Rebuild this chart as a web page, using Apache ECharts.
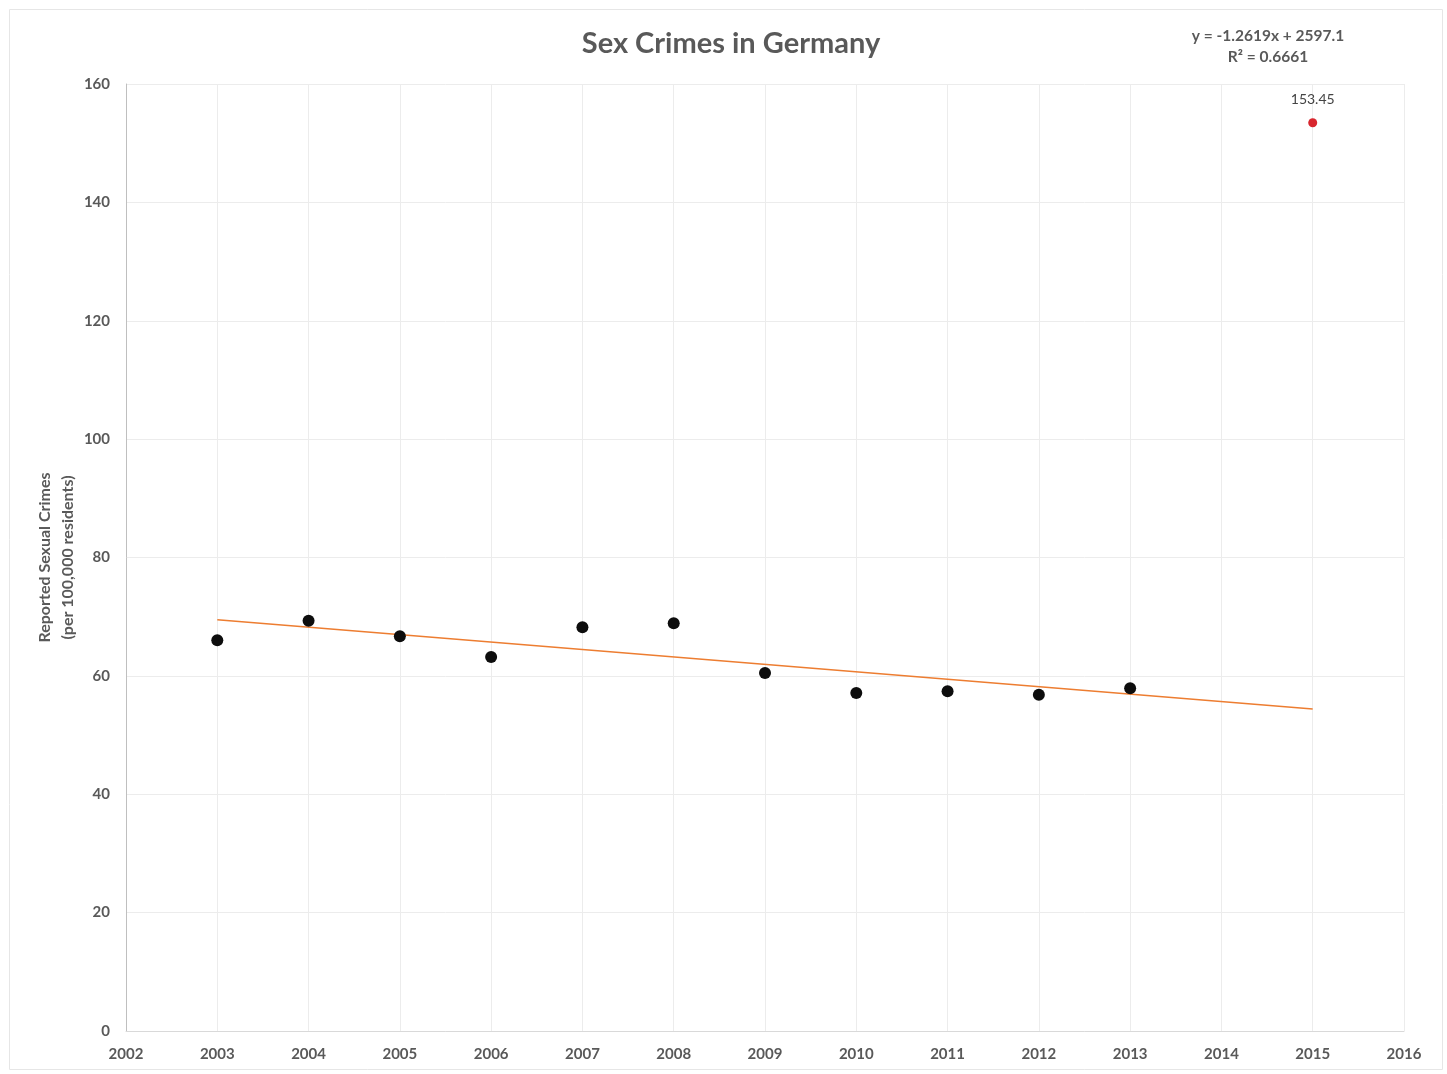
<!DOCTYPE html>
<html>
<head>
<meta charset="utf-8">
<script src="https://cdn.jsdelivr.net/npm/echarts@6/dist/echarts.min.js"></script>
<style>
  html, body { margin: 0; padding: 0; background: #fff; }
  #chart { width: 1447px; height: 1074px; }
</style>
</head>
<body>
<div id="chart"></div>
<script>
// reported values
var years = [2003, 2004, 2005, 2006, 2007, 2008, 2009, 2010, 2011, 2012, 2013];
var crimes = [66.0, 69.3, 66.7, 63.2, 68.2, 68.9, 60.5, 57.1, 57.4, 56.8, 57.9];
var outlierYear = [2015];
var outlierValue = [153.45];
// linear trend end points (y = -1.2619x + 2597.1)
var trendYears = [2003, 2015];
var trendValues = [69.5, 54.4];

var myChart = echarts.init(document.getElementById('chart'));

var labelFont = 'Lato, "Open Sans", sans-serif';
var textGray = '#595959';

var mainPts = [];
for (var i = 0; i < years.length; i++) {
    mainPts.push([years[i], crimes[i]]);
}
var redPts = [];
for (var j = 0; j < outlierYear.length; j++) {
    redPts.push([outlierYear[j], outlierValue[j]]);
}
var trendPts = [];
for (var k = 0; k < trendYears.length; k++) {
    trendPts.push([trendYears[k], trendValues[k]]);
}

option = {
    backgroundColor: '#fff',
    animation: false,
    title: {
        text: 'Sex Crimes in Germany',
        left: 726,
        top: 24,
        textAlign: 'center',
        textStyle: {
            fontFamily: labelFont,
            fontSize: 29,
            fontWeight: 'bold',
            color: textGray
        }
    },
    grid: {
        left: 126,
        right: 43,
        top: 84,
        bottom: 43,
        containLabel: false
    },
    xAxis: {
        type: 'value',
        min: 2002,
        max: 2016,
        interval: 1,
        axisLine: { show: true, lineStyle: { color: '#d9d9d9' } },
        axisTick: { show: false },
        splitLine: { show: true, lineStyle: { color: '#ececec' } },
        axisLabel: {
            margin: 16,
            fontFamily: labelFont,
            fontSize: 15,
            fontWeight: 'bold',
            color: textGray,
            formatter: function (v) { return String(v); }
        }
    },
    yAxis: {
        type: 'value',
        min: 0,
        max: 160,
        interval: 20,
        name: 'Reported Sexual Crimes\n(per 100,000 residents)',
        nameLocation: 'middle',
        nameGap: 47,
        nameMoveOverlap: false,
        nameTextStyle: {
            fontFamily: labelFont,
            fontSize: 16,
            fontWeight: 'bold',
            color: textGray,
            lineHeight: 23
        },
        axisLine: { show: true, lineStyle: { color: '#bfbfbf' } },
        axisTick: { show: false },
        splitLine: { show: true, lineStyle: { color: '#ececec' } },
        axisLabel: {
            margin: 16,
            fontFamily: labelFont,
            fontSize: 15,
            fontWeight: 'bold',
            color: textGray
        }
    },
    graphic: [
        {
            type: 'rect',
            left: 7,
            top: 7,
            shape: { width: 1433, height: 1060 },
            style: { fill: 'none', stroke: '#e6e6e6', lineWidth: 1 },
            silent: true
        },
        {
            type: 'text',
            x: 1268,
            y: 28,
            style: {
                text: 'y = -1.2619x + 2597.1',
                align: 'center',
                fontFamily: labelFont,
                fontSize: 15.5,
                fontWeight: 'bold',
                fill: textGray
            }
        },
        {
            type: 'text',
            x: 1268,
            y: 49,
            style: {
                text: 'R² = 0.6661',
                align: 'center',
                fontFamily: labelFont,
                fontSize: 15.5,
                fontWeight: 'bold',
                fill: textGray
            }
        }
    ],
    series: [
        {
            name: 'trend',
            type: 'line',
            data: trendPts,
            symbol: 'none',
            lineStyle: { color: '#ed7d31', width: 1.5 },
            z: 2
        },
        {
            name: 'crimes',
            type: 'scatter',
            data: mainPts,
            symbolSize: 12,
            itemStyle: { color: '#0d0d0d', opacity: 1 },
            z: 3
        },
        {
            name: '2015',
            type: 'scatter',
            data: redPts,
            symbolSize: 9,
            itemStyle: { color: '#d8262e', opacity: 1 },
            label: {
                show: true,
                position: 'top',
                distance: 12,
                formatter: function (p) { return p.value[1].toFixed(2); },
                fontFamily: labelFont,
                fontSize: 14,
                color: '#444'
            },
            z: 3
        }
    ]
};

myChart.setOption(option);
</script>
</body>
</html>
